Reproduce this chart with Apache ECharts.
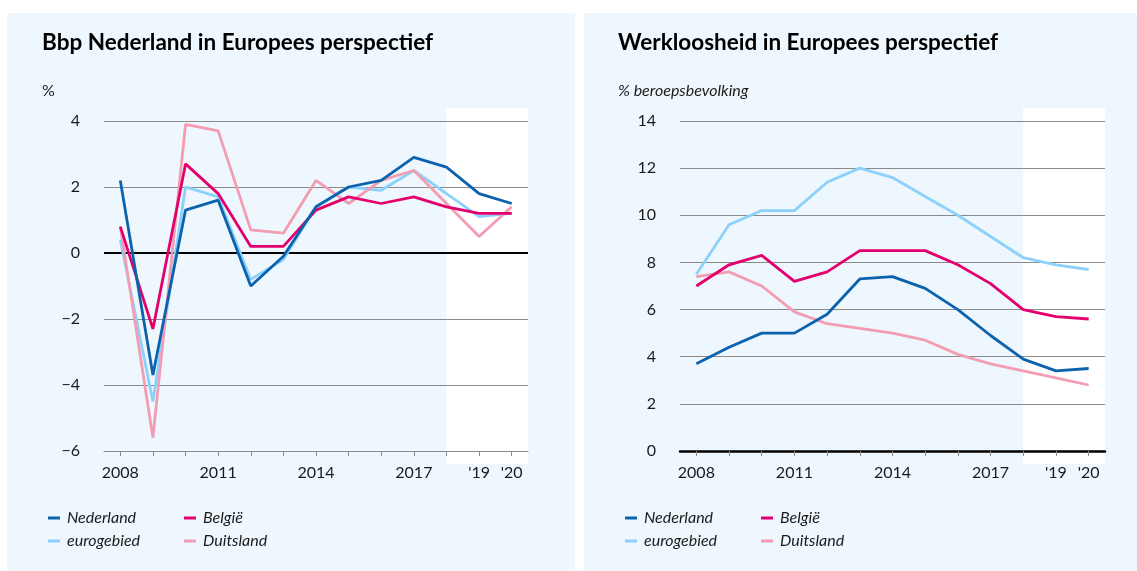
<!DOCTYPE html>
<html>
<head>
<meta charset="utf-8">
<title>Bbp en werkloosheid in Europees perspectief</title>
<script src="https://cdn.jsdelivr.net/npm/echarts@6/dist/echarts.min.js"></script>
<style>
  html, body { margin: 0; padding: 0; background: #fff; }
  #main { width: 1137px; height: 571px; }
</style>
</head>
<body>
<div id="main"></div>
<script>
// jaren op de x-as (2019 en 2020 zijn ramingen)
const years = ['2008', '2009', '2010', '2011', '2012', '2013', '2014', '2015', '2016', '2017', '2018', '2019', '2020'];
const xTickLabels = ['2008', '', '', '2011', '', '', '2014', '', '', '2017', '', "'19", "'20"];

// bbp-groei, %
const bbpNederland = [2.2, -3.7, 1.3, 1.6, -1.0, -0.1, 1.4, 2.0, 2.2, 2.9, 2.6, 1.8, 1.5];
const bbpBelgie = [0.8, -2.3, 2.7, 1.8, 0.2, 0.2, 1.3, 1.7, 1.5, 1.7, 1.4, 1.2, 1.2];
const bbpEurogebied = [0.4, -4.5, 2.0, 1.7, -0.8, -0.2, 1.4, 2.0, 1.9, 2.5, 1.8, 1.1, 1.2];
const bbpDuitsland = [0.8, -5.6, 3.9, 3.7, 0.7, 0.6, 2.2, 1.5, 2.2, 2.5, 1.5, 0.5, 1.4];

// werkloosheid, % beroepsbevolking
const wlNederland = [3.7, 4.4, 5.0, 5.0, 5.8, 7.3, 7.4, 6.9, 6.0, 4.9, 3.9, 3.4, 3.5];
const wlBelgie = [7.0, 7.9, 8.3, 7.2, 7.6, 8.5, 8.5, 8.5, 7.9, 7.1, 6.0, 5.7, 5.6];
const wlEurogebied = [7.5, 9.6, 10.2, 10.2, 11.4, 12.0, 11.6, 10.8, 10.0, 9.1, 8.2, 7.9, 7.7];
const wlDuitsland = [7.4, 7.6, 7.0, 5.9, 5.4, 5.2, 5.0, 4.7, 4.1, 3.7, 3.4, 3.1, 2.8];

const kleuren = {
  Nederland: '#0b62ad',
  'België': '#e3006d',
  eurogebied: '#8dd1fb',
  Duitsland: '#f39db2'
};

const bg = '#eef7fd';
const gridGrijs = '#8a8a8a';
const tekst = '#1a1a1a';
const font = 'Lato';

var myChart = echarts.init(document.getElementById('main'));

function yLabel(v) {
  return v < 0 ? '\u2212' + Math.abs(v) : String(v);
}

// x-as voor de data-grids
function dataXAxis(gridIndex, asLijn) {
  return {
    type: 'category',
    gridIndex: gridIndex,
    data: years,
    boundaryGap: true,
    axisLine: { show: true, onZero: false, lineStyle: asLijn },
    axisTick: { show: true, alignWithLabel: true, interval: 0, length: 5, lineStyle: { color: gridGrijs, width: 1 } },
    axisLabel: {
      interval: 0, margin: 14, color: tekst, fontFamily: font, fontSize: 16,
      formatter: function (v, i) { return xTickLabels[i]; }
    }
  };
}

function dataYAxis(gridIndex, min, max) {
  return {
    type: 'value',
    gridIndex: gridIndex,
    min: min, max: max, interval: 2,
    axisLine: { show: false },
    axisTick: { show: false },
    axisLabel: { margin: 24, color: tekst, fontFamily: font, fontSize: 16, formatter: yLabel },
    splitLine: { show: true, lineStyle: { color: gridGrijs, width: 1 } }
  };
}

// witte achtergrond voor de ramingsjaren
function achtergrondSerie(index) {
  return {
    type: 'line',
    xAxisIndex: index, yAxisIndex: index,
    data: [],
    silent: true,
    markArea: {
      silent: true, z: -5,
      itemStyle: { color: '#ffffff' },
      label: { show: false },
      data: [[{ xAxis: '2018' }, {}]]
    }
  };
}

function lijn(naam, data, index, extra) {
  return Object.assign({
    name: naam,
    type: 'line',
    xAxisIndex: index, yAxisIndex: index,
    data: data,
    symbol: 'none',
    showSymbol: false,
    lineStyle: { color: kleuren[naam], width: 2.8 },
    itemStyle: { color: kleuren[naam] },
    emphasis: { disabled: true }
  }, extra || {});
}

function legenda(left, namen) {
  return {
    orient: 'vertical',
    left: left, top: 509,
    padding: 0,
    itemGap: 5,
    itemWidth: 12, itemHeight: 3,
    icon: 'rect',
    selectedMode: false,
    data: namen,
    textStyle: { fontFamily: font, fontStyle: 'italic', fontSize: 16, lineHeight: 18, color: tekst, padding: [0, 0, 0, 2] }
  };
}

var option = {
  backgroundColor: '#ffffff',
  animation: false,
  graphic: [
    { type: 'rect', z: -10, shape: { x: 7, y: 13, width: 568, height: 558 }, style: { fill: bg } },
    { type: 'rect', z: -10, shape: { x: 584, y: 13, width: 553, height: 558 }, style: { fill: bg } }
  ],
  title: [
    { text: 'Bbp Nederland in Europees perspectief', left: 42, top: 30, padding: 0,
      textStyle: { fontFamily: font, fontWeight: 'bold', fontSize: 22.5, lineHeight: 26, color: '#000' } },
    { text: 'Werkloosheid in Europees perspectief', left: 618, top: 30, padding: 0,
      textStyle: { fontFamily: font, fontWeight: 'bold', fontSize: 22.5, lineHeight: 26, color: '#000' } },
    { text: '%', left: 42, top: 82, padding: 0,
      textStyle: { fontFamily: font, fontWeight: 'normal', fontSize: 16, lineHeight: 18, color: tekst } },
    { text: '% beroepsbevolking', left: 618, top: 82, padding: 0,
      textStyle: { fontFamily: font, fontWeight: 'normal', fontStyle: 'italic', fontSize: 16, lineHeight: 18, color: tekst } }
  ],
  legend: [
    legenda(48, ['Nederland', 'eurogebied']),
    legenda(184, ['België', 'Duitsland']),
    legenda(625, ['Nederland', 'eurogebied']),
    legenda(761, ['België', 'Duitsland'])
  ],
  grid: [
    { left: 104, width: 424, top: 108, height: 356 },
    { left: 104, width: 424, top: 121, height: 330 },
    { left: 680, width: 425, top: 108, height: 356 },
    { left: 680, width: 425, top: 121, height: 330 }
  ],
  xAxis: [
    { type: 'category', gridIndex: 0, data: years, boundaryGap: true, show: false },
    dataXAxis(1, { color: gridGrijs, width: 1 }),
    { type: 'category', gridIndex: 2, data: years, boundaryGap: true, show: false },
    dataXAxis(3, { color: '#000', width: 2.5 })
  ],
  yAxis: [
    { type: 'value', gridIndex: 0, min: 0, max: 1, show: false },
    dataYAxis(1, -6, 4),
    { type: 'value', gridIndex: 2, min: 0, max: 1, show: false },
    dataYAxis(3, 0, 14)
  ],
  series: [
    achtergrondSerie(0),
    achtergrondSerie(2),
    lijn('eurogebied', bbpEurogebied, 1),
    lijn('Duitsland', bbpDuitsland, 1),
    lijn('België', bbpBelgie, 1),
    lijn('Nederland', bbpNederland, 1, {
      markLine: {
        silent: true, z: 1, symbol: 'none',
        label: { show: false },
        lineStyle: { color: '#000', width: 2, type: 'solid' },
        data: [{ yAxis: 0 }]
      }
    }),
    lijn('eurogebied', wlEurogebied, 3),
    lijn('Duitsland', wlDuitsland, 3),
    lijn('België', wlBelgie, 3),
    lijn('Nederland', wlNederland, 3)
  ]
};

option && myChart.setOption(option);
</script>
</body>
</html>
